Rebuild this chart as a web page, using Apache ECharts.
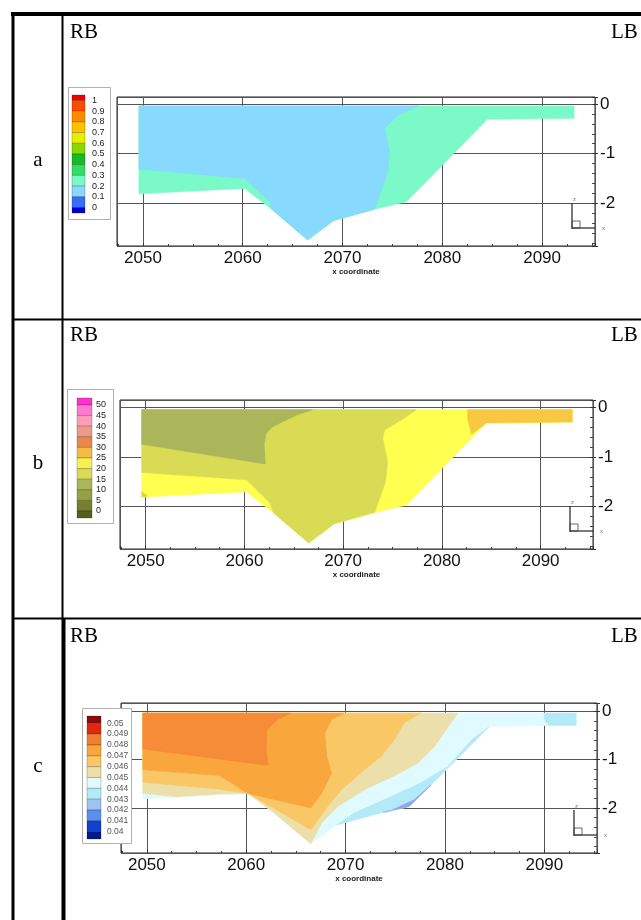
<!DOCTYPE html>
<html>
<head>
<meta charset="utf-8">
<style>
html, body { margin: 0; padding: 0; background: #fff; }
#main { width: 641px; height: 920px; }
</style>
<script src="https://cdn.jsdelivr.net/npm/echarts@6/dist/echarts.min.js"></script>
</head>
<body>
<div id="main"></div>
<script>
// cross-section outline (x coordinate, z), same in all three panels
var domain = [[2049.6, -0.04], [2093.2, -0.04], [2093.2, -0.29], [2084.5, -0.31], [2076.4, -1.97], [2073.2, -2.12],
    [2069.1, -2.35], [2066.5, -2.74], [2062.9, -2.12], [2060.2, -1.70], [2049.6, -1.81]];

// panel a (0.2-0.3 everywhere else)
var aBand01 = [[2049.6, -0.04], [2077.6, -0.04], [2075.6, -0.22], [2074.2, -0.49], [2074.7, -0.96], [2074.5, -1.40],
    [2073.2, -2.12], [2069.1, -2.35], [2066.5, -2.74], [2062.9, -2.12], [2062.7, -1.97], [2060.2, -1.50], [2049.6, -1.31]];

// panel b (20-25 everywhere else)
var bBand15 = [[2049.6, -0.04], [2077.4, -0.04], [2075.9, -0.25], [2074.2, -0.45], [2074.0, -0.62], [2074.5, -1.09],
    [2074.3, -1.49], [2073.2, -2.12], [2069.1, -2.35], [2066.5, -2.74], [2062.9, -2.12], [2062.6, -1.93], [2060.2, -1.46], [2049.6, -1.31]];
var bBand10 = [[2049.6, -0.04], [2066.9, -0.04], [2065.3, -0.15], [2062.9, -0.38], [2062.2, -0.52], [2062.0, -0.72],
    [2062.1, -1.14], [2049.6, -0.74]];
var bBand25Top = [[2082.6, -0.04], [2093.2, -0.04], [2093.2, -0.29], [2084.5, -0.31], [2083.0, -0.54], [2082.6, -0.22]];
var bBand25Corner = [[2049.6, -1.70], [2050.2, -1.79], [2049.6, -1.81]];

// panel c (0.045-0.046 everywhere else)
var cBand044 = [[2084.5, -0.31], [2076.4, -1.97], [2073.2, -2.12], [2069.1, -2.35], [2070.9, -2.10], [2074.3, -1.79],
    [2077.6, -1.48], [2080.3, -1.14], [2082.7, -0.59]];
var cBand044Top = [[2090.0, -0.04], [2093.2, -0.04], [2093.2, -0.29], [2090.4, -0.29], [2090.0, -0.17]];
var cBand042 = [[2073.8, -2.09], [2076.4, -1.97], [2078.6, -1.52], [2076.9, -1.83], [2074.6, -2.05]];
var cBand046 = [[2049.6, -0.04], [2081.3, -0.04], [2080.6, -0.24], [2079.0, -0.72], [2077.3, -1.07], [2074.9, -1.34],
    [2072.2, -1.59], [2069.2, -1.97], [2067.6, -2.31], [2066.5, -2.74], [2062.9, -2.12], [2060.2, -1.70], [2057.3, -1.71],
    [2053.1, -1.77], [2049.6, -1.70]];
var cBand047 = [[2049.6, -0.04], [2077.6, -0.04], [2075.9, -0.24], [2074.9, -0.59], [2073.6, -0.93], [2071.9, -1.21],
    [2069.6, -1.62], [2068.2, -1.97], [2066.5, -2.45], [2060.2, -1.70], [2057.3, -1.61], [2049.6, -1.47]];
var cBand048 = [[2049.6, -0.04], [2069.9, -0.04], [2068.6, -0.17], [2067.9, -0.45], [2068.1, -0.93], [2068.6, -1.28],
    [2067.6, -1.69], [2066.5, -2.00], [2060.2, -1.70], [2057.3, -1.33], [2049.6, -1.21]];
var cBand049 = [[2049.6, -0.04], [2064.5, -0.04], [2063.2, -0.17], [2062.1, -0.38], [2062.0, -0.76], [2062.2, -1.12],
    [2049.6, -0.78]];

// legend tick labels
var legendA = ['1', '0.9', '0.8', '0.7', '0.6', '0.5', '0.4', '0.3', '0.2', '0.1', '0'];
var legendB = ['50', '45', '40', '35', '30', '25', '20', '15', '10', '5', '0'];
var legendC = ['0.05', '0.049', '0.048', '0.047', '0.046', '0.045', '0.044', '0.043', '0.042', '0.041', '0.04'];
var rowLabels = ['a', 'b', 'c'];

// colour scales, top to bottom
var paletteA = ['#f00000', '#ff4a00', '#ff8a00', '#ffc200', '#e8f000', '#8ad800', '#14bb22', '#36dc66', '#7bf9c9', '#87d9fd', '#3a6cff', '#0000cc'];
var paletteB = ['#ff33cc', '#ff7acc', '#ff9cbc', '#ee9a88', '#e8894a', '#f4bc44', '#f8f050', '#d9db55', '#abb65a', '#98a040', '#777f30', '#556018'];
var paletteC = ['#8b0a0a', '#e02810', '#f08030', '#f9a73c', '#fac767', '#eddfaa', '#e0fbff', '#b3eaf8', '#9cc4f0', '#5b8eee', '#1040d0', '#001a8c'];

var FONT = 'Arial, "Liberation Sans", sans-serif';
var SERIF = '"Liberation Serif", "Times New Roman", serif';

var panels = [
    {
        grid: { left: 117, top: 97, width: 478, height: 149 }, yMin: -2.86, yMax: 0.14,
        layers: [
            { pts: domain, color: '#7bf9c9' },
            { pts: aBand01, color: '#87d9fd' }
        ],
        legend: { x: 68, y: 87, w: 42, h: 132, barX: 72, barW: 13, barY: 95, half: 5.5, step: 10.7, labelX: 92, size: 9, color: '#222' },
        labels: legendA, palette: paletteA, rowY: 32, letterY: 160
    },
    {
        grid: { left: 120, top: 400, width: 473, height: 149 }, yMin: -2.86, yMax: 0.155,
        layers: [
            { pts: domain, color: '#ffff50' },
            { pts: bBand15, color: '#d9db55' },
            { pts: bBand10, color: '#abb65a' },
            { pts: bBand25Top, color: '#f9c842' },
            { pts: bBand25Corner, color: '#f9c842' }
        ],
        legend: { x: 67, y: 389, w: 46, h: 134, barX: 77, barW: 15, barY: 398, half: 7, step: 10.6, labelX: 96, size: 9, color: '#222' },
        labels: legendB, palette: paletteB, rowY: 335, letterY: 463
    },
    {
        grid: { left: 121, top: 703, width: 476, height: 150 }, yMin: -2.93, yMax: 0.17,
        layers: [
            { pts: domain, color: '#e0fbff' },
            { pts: cBand044, color: '#b3eaf8' },
            { pts: cBand044Top, color: '#b3eaf8' },
            { pts: cBand042, color: '#8fa6ee' },
            { pts: cBand046, color: '#eddfaa' },
            { pts: cBand047, color: '#fac767' },
            { pts: cBand048, color: '#f9a73c' },
            { pts: cBand049, color: '#f68b38' }
        ],
        legend: { x: 82, y: 708, w: 49, h: 135, barX: 87, barW: 14, barY: 716, half: 7.3, step: 10.84, labelX: 107, size: 8.5, color: '#555' },
        labels: legendC, palette: paletteC, rowY: 636, letterY: 766
    }
];

function polygonSeries(idx, layers) {
    return {
        type: 'custom',
        coordinateSystem: 'cartesian2d',
        xAxisIndex: idx,
        yAxisIndex: idx,
        silent: true,
        animation: false,
        data: layers.map(function (l, i) { return [l.pts[0][0], l.pts[0][1], i]; }),
        renderItem: function (params, api) {
            var layer = layers[params.dataIndex];
            var points = layer.pts.map(function (p) { return api.coord(p); });
            return {
                type: 'polygon',
                shape: { points: points },
                style: { fill: layer.color, stroke: layer.color, lineWidth: 0.6 }
            };
        }
    };
}

function text(x, y, str, font, fill, align) {
    return {
        type: 'text', x: x, y: y, z: 100,
        style: { text: str, font: font, fill: fill, align: align || 'left', textAlign: align || 'left', verticalAlign: 'middle', textVerticalAlign: 'middle' }
    };
}

function line(x1, y1, x2, y2, w, color) {
    return { type: 'line', z: 100, shape: { x1: x1, y1: y1, x2: x2, y2: y2 }, style: { stroke: color || '#000', lineWidth: w } };
}

function legendGraphic(p) {
    var L = p.legend, els = [];
    els.push({ type: 'rect', z: 100, shape: { x: L.x + 0.5, y: L.y + 0.5, width: L.w, height: L.h }, style: { fill: '#fff', stroke: '#b0b0b0', lineWidth: 1 } });
    var y = L.barY;
    for (var i = 0; i < p.palette.length; i++) {
        var h = (i === 0 || i === p.palette.length - 1) ? L.half : L.step;
        els.push({ type: 'rect', z: 101, shape: { x: L.barX, y: y, width: L.barW, height: h }, style: { fill: p.palette[i], stroke: 'rgba(0,0,0,0.35)', lineWidth: 0.6 } });
        y += h;
    }
    for (var j = 0; j < p.labels.length; j++) {
        els.push(text(L.labelX, L.barY + L.half + j * L.step, p.labels[j], L.size + 'px ' + FONT, L.color));
    }
    return els;
}

// little z/x orientation sign in the lower right corner
function axisSign(g) {
    var r = g.left + g.width, b = g.top + g.height, x = r - 23;
    return [
        line(x, b - 43, x, b - 17, 1.2, '#222'),
        line(x, b - 18, r, b - 18, 1.2, '#222'),
        { type: 'rect', z: 100, shape: { x: x, y: b - 25, width: 8, height: 7 }, style: { fill: 'none', stroke: '#444', lineWidth: 0.8 } },
        text(x + 1, b - 47, 'z', '6px ' + FONT, '#777'),
        text(r + 7, b - 18, 'x', '6px ' + FONT, '#777')
    ];
}

var grids = [], xAxes = [], yAxes = [], tickAxes = [], series = [], graphics = [];

panels.forEach(function (p, i) {
    grids.push({ left: p.grid.left, top: p.grid.top, width: p.grid.width, height: p.grid.height, show: true, borderColor: '#222', borderWidth: 1 });
    xAxes.push({
        gridIndex: i, type: 'value', min: 2047.4, max: 2095.3, splitNumber: 5,
        axisLine: { show: false, onZero: false },
        axisTick: { show: true, inside: true, length: 3, lineStyle: { color: '#333' } },
        minorTick: { show: true, splitNumber: 4, length: 2, lineStyle: { color: '#444' } },
        axisLabel: {
            showMinLabel: false, showMaxLabel: false, fontSize: 17, color: '#111', margin: 4, fontFamily: FONT,
            formatter: function (v) { return String(v); }
        },
        splitLine: { show: true, lineStyle: { color: '#555', width: 1 } },
        name: 'x coordinate', nameLocation: 'middle', nameGap: 21,
        nameTextStyle: { fontSize: 8, fontWeight: 'bold', color: '#222', fontFamily: FONT }
    });
    yAxes.push({
        gridIndex: i, type: 'value', position: 'right', min: p.yMin, max: p.yMax, splitNumber: 3,
        axisLine: { show: false, onZero: false },
        axisTick: { show: true, inside: true, length: 3, lineStyle: { color: '#333' } },
        minorTick: { show: true, splitNumber: 5, length: 3, lineStyle: { color: '#444' } },
        axisLabel: { showMinLabel: false, showMaxLabel: false, fontSize: 17, color: '#111', margin: 5, fontFamily: FONT },
        splitLine: { show: true, lineStyle: { color: '#555', width: 1 } }
    });
    // second right axis only for the outward major ticks
    tickAxes.push({
        gridIndex: i, type: 'value', position: 'right', min: p.yMin, max: p.yMax, splitNumber: 3,
        axisLine: { show: false, onZero: false },
        axisTick: { show: true, inside: false, length: 3, lineStyle: { color: '#333' } },
        axisLabel: { show: false }, splitLine: { show: false }
    });
    series.push(polygonSeries(i, p.layers));

    graphics = graphics.concat(legendGraphic(p), axisSign(p.grid));
    graphics.push(text(70, p.rowY, 'RB', '21px ' + SERIF, '#000'));
    graphics.push(text(611, p.rowY, 'LB', '21px ' + SERIF, '#000'));
    graphics.push(text(38, p.letterY, rowLabels[i], '21px ' + SERIF, '#000', 'center'));
});

// table rules
graphics.push(line(11, 14, 641, 14, 4));
graphics.push(line(13, 12, 13, 920, 3));
graphics.push(line(62.5, 14, 62.5, 618, 2));
graphics.push(line(63.5, 618, 63.5, 920, 4));
graphics.push(line(13, 319.5, 641, 319.5, 2));
graphics.push(line(13, 618.5, 641, 618.5, 2));

var chart = echarts.init(document.getElementById('main'));
chart.setOption({
    animation: false,
    backgroundColor: '#fff',
    grid: grids,
    xAxis: xAxes,
    yAxis: yAxes.concat(tickAxes),
    series: series,
    graphic: { elements: graphics }
});
</script>
</body>
</html>
